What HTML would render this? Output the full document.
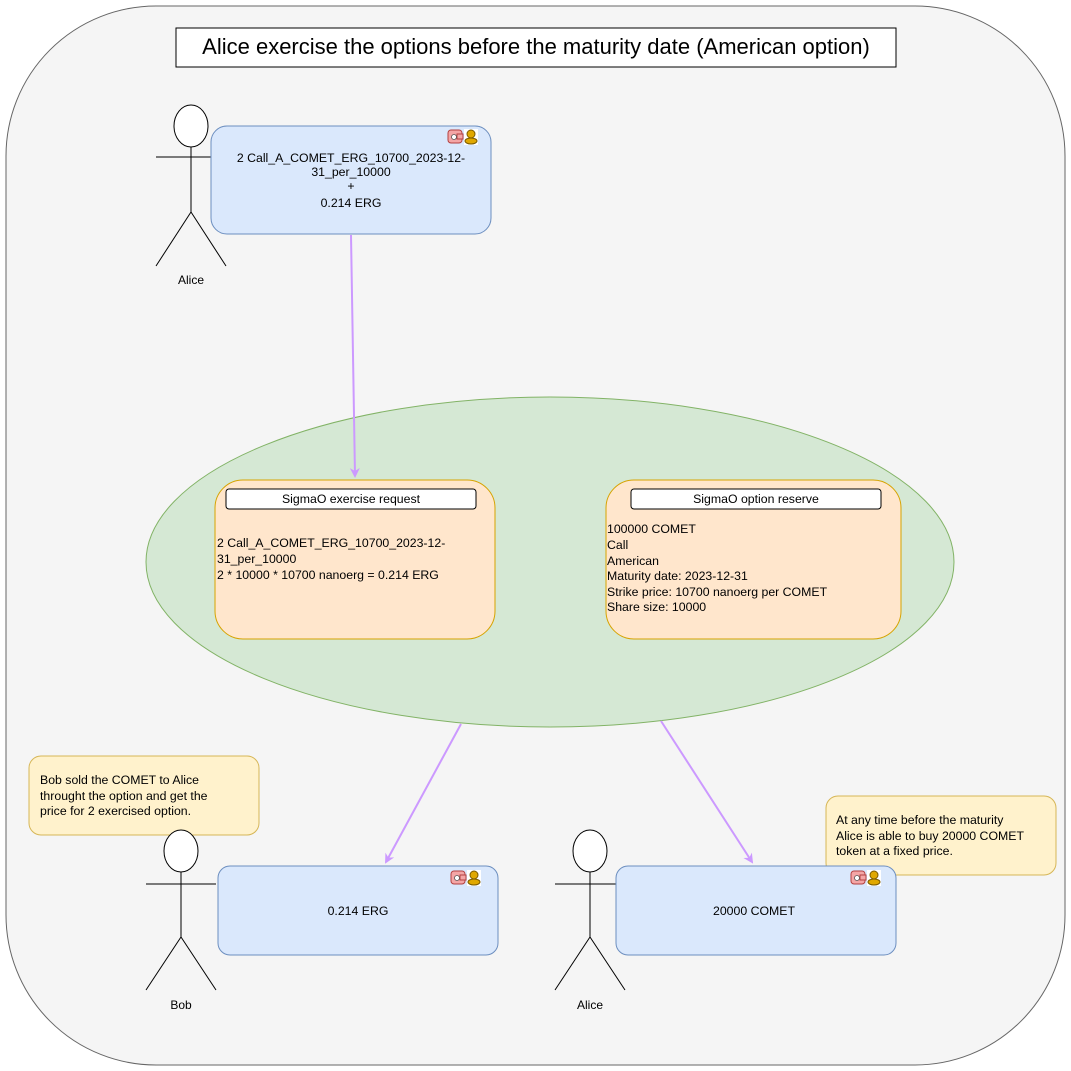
<!DOCTYPE html>
<html><head><meta charset="utf-8"><style>
html,body{margin:0;padding:0;background:#fff;}
svg{display:block;font-family:"Liberation Sans",Arial,sans-serif;}
</style></head><body>
<svg width="1071" height="1071" viewBox="0 0 1071 1071" xmlns="http://www.w3.org/2000/svg">
<defs>
<marker id="ah" markerWidth="12" markerHeight="12" refX="8" refY="5" orient="auto" markerUnits="userSpaceOnUse">
<path d="M0,0 L10,5 L0,10 L3,5 Z" fill="#cc99ff"/>
</marker>
<g id="icons">
<rect x="0" y="0" width="14" height="13" rx="3" fill="#f4a6a6" stroke="#b34040"/>
<rect x="9" y="4" width="6" height="5" fill="#f4a6a6" stroke="#b34040"/>
<circle cx="6" cy="7" r="2.5" fill="#fff" stroke="#555" stroke-width="0.8"/>
<rect x="16" y="-1" width="14" height="16" fill="#fff"/>
<circle cx="23" cy="4" r="4" fill="#e0a800" stroke="#7a5a00"/>
<ellipse cx="23" cy="11" rx="6" ry="3" fill="#e0a800" stroke="#7a5a00"/>
</g>
</defs>
<rect x="6" y="6" width="1059" height="1059" rx="150" fill="#f5f5f5" stroke="#666"/>
<rect x="176" y="28" width="720" height="39" fill="#fff" stroke="#000"/>
<text x="536" y="54" font-size="22" text-anchor="middle">Alice exercise the options before the maturity date (American option)</text>

<g fill="none" stroke="#000" stroke-width="1">
<ellipse cx="191" cy="126" rx="17" ry="21" fill="#fff"/>
<line x1="191" y1="147" x2="191" y2="212"/>
<line x1="156" y1="157" x2="226" y2="157"/>
<line x1="191" y1="212" x2="156" y2="266"/>
<line x1="191" y1="212" x2="226" y2="266"/>
</g>
<text x="191" y="284" font-size="12" text-anchor="middle">Alice</text>

<rect x="211" y="126" width="280" height="108" rx="16" fill="#dae8fc" stroke="#6c8ebf"/>
<use href="#icons" x="448" y="130"/>
<text font-size="12.3" text-anchor="middle"><tspan x="351" y="162">2 Call_A_COMET_ERG_10700_2023-12-</tspan><tspan x="351" y="176">31_per_10000</tspan><tspan x="351" y="190">+</tspan><tspan x="351" y="207">0.214 ERG</tspan></text>

<ellipse cx="550" cy="562" rx="404" ry="165" fill="#d5e8d4" stroke="#82b366"/>

<rect x="215" y="480" width="280" height="159" rx="28" fill="#ffe6cc" stroke="#d6a300"/>
<rect x="226" y="489" width="250" height="20" rx="3" fill="#fff" stroke="#000"/>
<text x="351" y="503" font-size="12.3" text-anchor="middle">SigmaO exercise request</text>
<text font-size="12.3"><tspan x="217" y="547">2 Call_A_COMET_ERG_10700_2023-12-</tspan><tspan x="217" y="563">31_per_10000</tspan><tspan x="217" y="579">2 * 10000 * 10700 nanoerg = 0.214 ERG</tspan></text>

<rect x="606" y="480" width="295" height="159" rx="28" fill="#ffe6cc" stroke="#d6a300"/>
<rect x="631" y="489" width="250" height="20" rx="3" fill="#fff" stroke="#000"/>
<text x="756" y="503" font-size="12.3" text-anchor="middle">SigmaO option reserve</text>
<text font-size="12.3"><tspan x="607" y="533">100000 COMET</tspan><tspan x="607" y="549">Call</tspan><tspan x="607" y="565">American</tspan><tspan x="607" y="580">Maturity date: 2023-12-31</tspan><tspan x="607" y="596">Strike price: 10700 nanoerg per COMET</tspan><tspan x="607" y="611">Share size: 10000</tspan></text>

<g stroke="#cc99ff" stroke-width="2" fill="none" marker-end="url(#ah)">
<line x1="351" y1="235" x2="355" y2="476"/>
<line x1="461" y1="724" x2="386" y2="862"/>
<line x1="661" y1="721" x2="752" y2="862"/>
</g>

<rect x="29" y="756" width="230" height="79" rx="12" fill="#fff2cc" stroke="#d6b656"/>
<text font-size="12.3"><tspan x="40" y="784">Bob sold the COMET to Alice</tspan><tspan x="40" y="800">throught the option and get the</tspan><tspan x="40" y="815">price for 2 exercised option.</tspan></text>

<rect x="826" y="796" width="230" height="79" rx="12" fill="#fff2cc" stroke="#d6b656"/>
<text font-size="12.3"><tspan x="836" y="824">At any time before the maturity</tspan><tspan x="836" y="840">Alice is able to buy 20000 COMET</tspan><tspan x="836" y="855">token at a fixed price.</tspan></text>

<g fill="none" stroke="#000">
<ellipse cx="181" cy="851" rx="17" ry="21" fill="#fff"/>
<line x1="181" y1="872" x2="181" y2="937"/>
<line x1="146" y1="884" x2="216" y2="884"/>
<line x1="181" y1="937" x2="146" y2="990"/>
<line x1="181" y1="937" x2="216" y2="990"/>
</g>
<text x="181" y="1009" font-size="12" text-anchor="middle">Bob</text>

<g fill="none" stroke="#000">
<ellipse cx="590" cy="851" rx="17" ry="21" fill="#fff"/>
<line x1="590" y1="872" x2="590" y2="937"/>
<line x1="555" y1="884" x2="625" y2="884"/>
<line x1="590" y1="937" x2="555" y2="990"/>
<line x1="590" y1="937" x2="625" y2="990"/>
</g>
<text x="590" y="1009" font-size="12" text-anchor="middle">Alice</text>

<rect x="218" y="866" width="280" height="89" rx="12" fill="#dae8fc" stroke="#6c8ebf"/>
<use href="#icons" x="451" y="871"/>
<text x="358" y="915" font-size="12.3" text-anchor="middle">0.214 ERG</text>

<rect x="616" y="866" width="280" height="89" rx="12" fill="#dae8fc" stroke="#6c8ebf"/>
<use href="#icons" x="851" y="871"/>
<text x="754" y="915" font-size="12.3" text-anchor="middle">20000 COMET</text>
</svg>
</body></html>
